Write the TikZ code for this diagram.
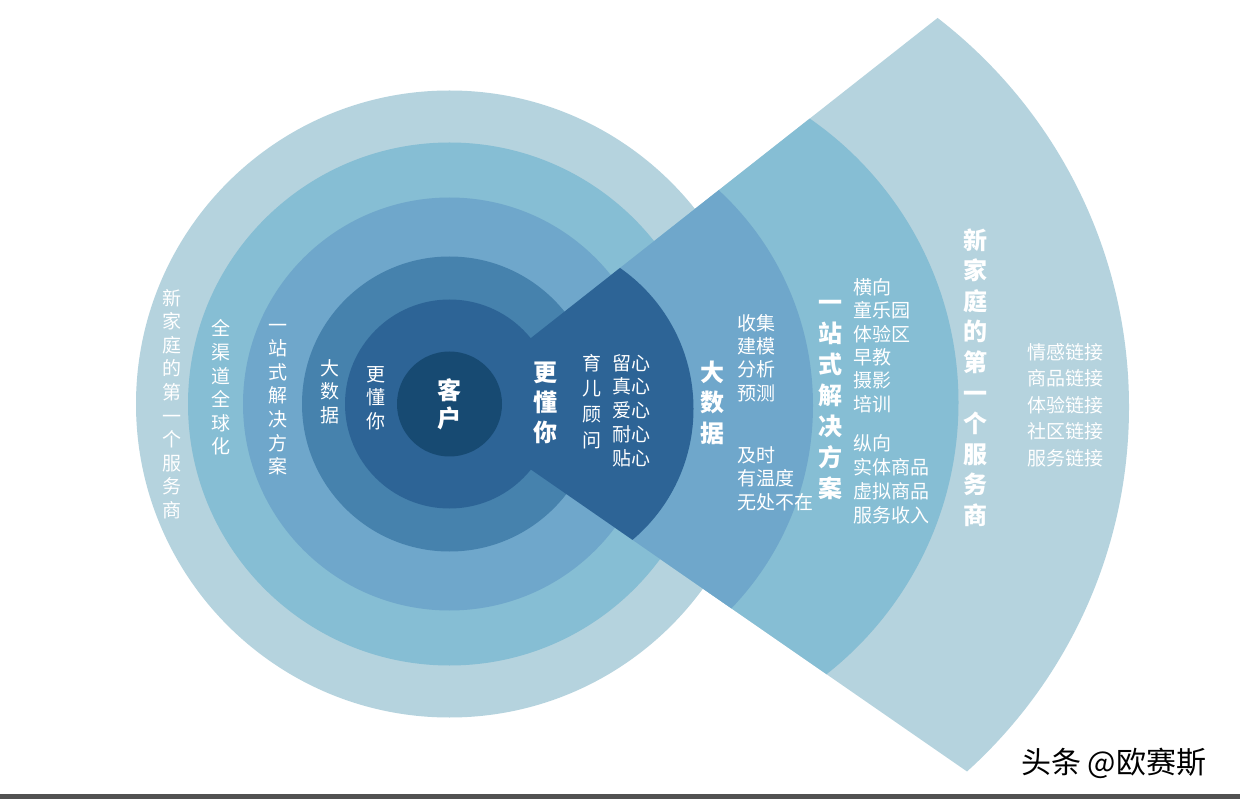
\documentclass[tikz,border=0pt]{standalone}
\usepackage{fontspec}
\newfontfamily\cjk{Noto Sans CJK SC}
\definecolor{cA}{HTML}{B5D3DE}
\definecolor{cB}{HTML}{86BED4}
\definecolor{cC}{HTML}{6FA7CB}
\definecolor{cD}{HTML}{4682AD}
\definecolor{cE}{HTML}{2D6496}
\definecolor{cF}{HTML}{174A72}
\tikzset{
  lab/.style={text=white, inner sep=0pt, align=center, font=\cjk\fontsize{19}{23.6}\selectfont},
  llab/.style={text=white, inner sep=0pt, align=left, anchor=west, font=\cjk\fontsize{19}{23.5}\selectfont},
  blab/.style={text=white, inner sep=0pt, align=center, font=\cjk\bfseries\fontsize{24}{30.5}\selectfont},
}
\begin{document}
\begin{tikzpicture}[x=1pt,y=-1pt]
\useasboundingbox (0,0) rectangle (1240,799);
\fill[white] (0,0) rectangle (1240,799);
\coordinate (O) at (449.5,404);
\coordinate (apex) at (442,408);
\coordinate (ftop) at (1428,-368);
\coordinate (fbot) at (1482,1128);
% rings and sectors
\fill[cA] (O) circle (313.5pt);
\begin{scope}
  \clip (apex) -- (ftop) -- (fbot) -- cycle;
  \fill[cA] (638,407) circle (491pt);
\end{scope}
\fill[cB] (O) circle (261.5pt);
\begin{scope}
  \clip (apex) -- (ftop) -- (fbot) -- cycle;
  \fill[cB] (613,402.6) circle (345.5pt);
\end{scope}
\fill[cC] (O) circle (206.5pt);
\begin{scope}
  \clip (apex) -- (ftop) -- (fbot) -- cycle;
  \fill[cC] (520,405.5) circle (293pt);
\end{scope}
\fill[cD] (O) circle (147.5pt);
\begin{scope}
  \clip (apex) -- (ftop) -- (fbot) -- cycle;
  \fill[cE] (522,408.7) circle (171.5pt);
\end{scope}
\fill[cE] (O) circle (104.5pt);
\fill[cF] (O) circle (52.5pt);
% centre
\node[blab, font=\cjk\bfseries\fontsize{24}{28}\selectfont] (kehu) at (449.5,404) {客\\户};
% left ring labels
\node[lab] (l1) at (376,398) {更\\懂\\你};
\node[lab] (l2) at (330,391.5) {大\\数\\据};
\node[lab] (l3) at (278,399.5) {一\\站\\式\\解\\决\\方\\案};
\node[lab] (l4) at (221,387.5) {全\\渠\\道\\全\\球\\化};
\node[lab] (l5) at (172,404) {新\\家\\庭\\的\\第\\一\\个\\服\\务\\商};
% sector 1
\node[blab, font=\cjk\bfseries\fontsize{24}{30}\selectfont] (s1t) at (545,403) {更\\懂\\你};
\node[lab, font=\cjk\fontsize{19}{25.7}\selectfont] (s1a) at (592,401.5) {育\\儿\\顾\\问};
\node[llab, font=\cjk\fontsize{19}{23.75}\selectfont] (s1b) at (612,410.5) {留心\\真心\\爱心\\耐心\\贴心};
% sector 2
\node[blab] (s2t) at (712,402.5) {大\\数\\据};
\node[llab, font=\cjk\fontsize{19}{23.3}\selectfont] (s2a) at (737,358) {收集\\建模\\分析\\预测};
\node[llab] (s2b) at (737,478.5) {及时\\有温度\\无处不在};
% sector 3
\node[blab, font=\cjk\bfseries\fontsize{24}{31}\selectfont] (s3t) at (830,400) {一\\站\\式\\解\\决\\方\\案};
\node[llab, font=\cjk\fontsize{19}{23.4}\selectfont] (s3a) at (853,345.5) {横向\\童乐园\\体验区\\早教\\摄影\\培训};
\node[llab, font=\cjk\fontsize{19}{24}\selectfont] (s3b) at (853,479) {纵向\\实体商品\\虚拟商品\\服务收入};
% sector 4
\node[blab, font=\cjk\bfseries\fontsize{24}{30.6}\selectfont] (s4t) at (975,377.5) {新\\家\\庭\\的\\第\\一\\个\\服\\务\\商};
\node[llab, font=\cjk\fontsize{19}{26.5}\selectfont] (s4a) at (1027,405) {情感链接\\商品链接\\体验链接\\社区链接\\服务链接};
% watermark and bottom bar
\node[anchor=west, inner sep=0pt, text=black, font=\cjk\fontsize{30}{34}\selectfont] (wm) at (1021,763) {头条 @欧赛斯};
\fill[black!68] (0,793.5) rectangle (1240,799);
\end{tikzpicture}
\end{document}
